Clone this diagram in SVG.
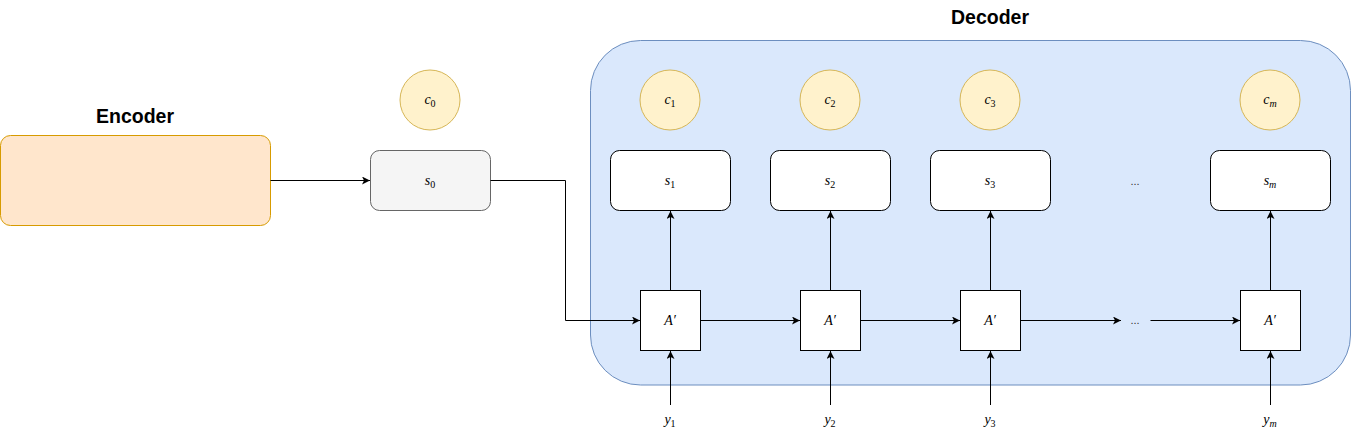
<svg xmlns="http://www.w3.org/2000/svg" width="1351" height="439" viewBox="0 0 1351 439">
<style>
.title{font-family:"Liberation Sans",Arial,sans-serif;font-weight:bold;font-size:19.5px;text-anchor:middle;fill:#000}
.m{font-family:"Liberation Serif","Times New Roman",serif;font-style:italic;font-size:14px;text-anchor:middle;fill:#000}
.sub{font-style:normal;font-size:10px}
.subi{font-size:10px}
.c{fill:#fff2cc;stroke:#d6b656;stroke-width:1}
.s{fill:#ffffff;stroke:#000;stroke-width:1}
.a{fill:#ffffff;stroke:#000;stroke-width:1}
.e{fill:#ffe6cc;stroke:#d79b00;stroke-width:1}
.dots{font-family:"Liberation Sans",Arial,sans-serif;font-size:11px;text-anchor:middle;fill:#333}
.ln{fill:none;stroke:#000;stroke-width:1}
</style>
<defs>
<marker id="arr" viewBox="0 0 10 10" refX="10" refY="5" markerWidth="8" markerHeight="8" markerUnits="userSpaceOnUse" orient="auto">
<path d="M0,0 L10,5 L0,10 L2.5,5 Z" fill="#000"/>
</marker>
</defs>
<g id="decoder-container">
<rect x="590.5" y="40.5" width="760" height="344.5" rx="50" ry="50" fill="#dae8fc" stroke="#6c8ebf"/>
<text class="title" x="990" y="24">Decoder</text>
</g>
<g id="encoder">
<rect class="e" x="0.5" y="135.5" width="270" height="90" rx="10" ry="10"/>
<text class="title" x="135" y="123">Encoder</text>
</g>
<g id="c0"><circle class="c" cx="430" cy="100" r="30"/><text class="m" x="430" y="104">c<tspan class="sub" dy="3">0</tspan></text></g>
<g id="s0"><rect x="370.5" y="150.5" width="120" height="60" rx="9" fill="#f5f5f5" stroke="#666666"/><text class="m" x="430" y="185">s<tspan class="sub" dy="3">0</tspan></text></g>
<g id="c1"><circle class="c" cx="670" cy="100" r="30"/><text class="m" x="670" y="104">c<tspan class="sub" dy="3">1</tspan></text></g>
<g id="c2"><circle class="c" cx="830" cy="100" r="30"/><text class="m" x="830" y="104">c<tspan class="sub" dy="3">2</tspan></text></g>
<g id="c3"><circle class="c" cx="990" cy="100" r="30"/><text class="m" x="990" y="104">c<tspan class="sub" dy="3">3</tspan></text></g>
<g id="cm"><circle class="c" cx="1270" cy="100" r="30"/><text class="m" x="1270" y="104">c<tspan class="subi" dy="3">m</tspan></text></g>
<g id="s1"><rect class="s" x="610.5" y="150.5" width="120" height="60" rx="9"/><text class="m" x="670" y="185">s<tspan class="sub" dy="3">1</tspan></text></g>
<g id="s2"><rect class="s" x="770.5" y="150.5" width="120" height="60" rx="9"/><text class="m" x="830" y="185">s<tspan class="sub" dy="3">2</tspan></text></g>
<g id="s3"><rect class="s" x="930.5" y="150.5" width="120" height="60" rx="9"/><text class="m" x="990" y="185">s<tspan class="sub" dy="3">3</tspan></text></g>
<g id="sm"><rect class="s" x="1210.5" y="150.5" width="120" height="60" rx="9"/><text class="m" x="1270" y="185">s<tspan class="subi" dy="3">m</tspan></text></g>
<g id="dots-top"><text class="dots" x="1135" y="185">...</text></g>
<g id="A1"><rect class="a" x="640.5" y="290.5" width="60" height="60"/><text class="m" x="670" y="325">A′</text></g>
<g id="A2"><rect class="a" x="800.5" y="290.5" width="60" height="60"/><text class="m" x="830" y="325">A′</text></g>
<g id="A3"><rect class="a" x="960.5" y="290.5" width="60" height="60"/><text class="m" x="990" y="325">A′</text></g>
<g id="Am"><rect class="a" x="1240.5" y="290.5" width="60" height="60"/><text class="m" x="1270" y="325">A′</text></g>
<g id="dots-mid"><text class="dots" x="1135" y="324">...</text></g>
<g id="y1"><text class="m" x="670" y="424">y<tspan class="sub" dy="3">1</tspan></text></g>
<g id="y2"><text class="m" x="830" y="424">y<tspan class="sub" dy="3">2</tspan></text></g>
<g id="y3"><text class="m" x="990" y="424">y<tspan class="sub" dy="3">3</tspan></text></g>
<g id="ym"><text class="m" x="1270" y="424">y<tspan class="subi" dy="3">m</tspan></text></g>
<g id="connectors" class="ln">
<path class="ln" d="M270.5,180.5 H370" marker-end="url(#arr)"/>
<path class="ln" d="M490.5,180.5 H565.5 V320.5 H640" marker-end="url(#arr)"/>
<path class="ln" d="M700.5,320.5 H800" marker-end="url(#arr)"/>
<path class="ln" d="M860.5,320.5 H960" marker-end="url(#arr)"/>
<path class="ln" d="M1020.5,320.5 H1121" marker-end="url(#arr)"/>
<path class="ln" d="M1150.5,320.5 H1240" marker-end="url(#arr)"/>
<path class="ln" d="M670.5,290.5 V211" marker-end="url(#arr)"/>
<path class="ln" d="M830.5,290.5 V211" marker-end="url(#arr)"/>
<path class="ln" d="M990.5,290.5 V211" marker-end="url(#arr)"/>
<path class="ln" d="M1270.5,290.5 V211" marker-end="url(#arr)"/>
<path class="ln" d="M670.5,405 V351" marker-end="url(#arr)"/>
<path class="ln" d="M830.5,405 V351" marker-end="url(#arr)"/>
<path class="ln" d="M990.5,405 V351" marker-end="url(#arr)"/>
<path class="ln" d="M1270.5,405 V351" marker-end="url(#arr)"/>
</g>
</svg>
